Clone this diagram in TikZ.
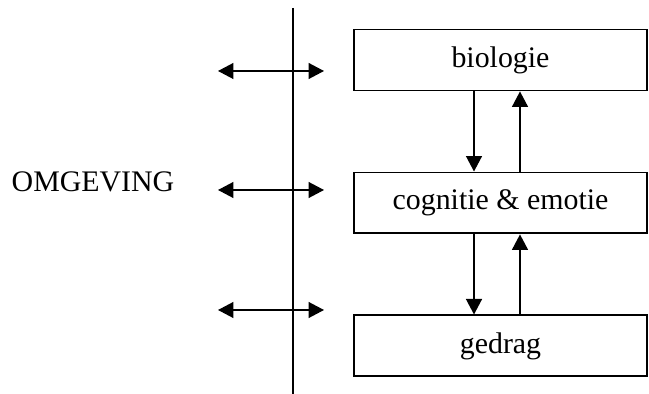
\documentclass[tikz,border=0pt]{standalone}
\usepackage{fontspec}
\setmainfont{Liberation Serif}
\usetikzlibrary{arrows.meta}

\begin{document}
\begin{tikzpicture}[x=0.02cm, y=-0.02cm, node distance=2.86cm]
	\tikzstyle{box} = [rectangle, minimum width=5.86cm, minimum height=1.22cm, 
	text centered, draw=black, line width=1.1pt, font=\fontsize{17}{20}\selectfont]
	\tikzstyle{arrow} = [line width=0.8pt, -{Triangle[length=0.31cm, width=0.32cm]}]
	\tikzstyle{both} = [line width=0.8pt, {Triangle[length=0.31cm, width=0.32cm]}-{Triangle[length=0.31cm, width=0.32cm]}]
	\useasboundingbox (0,0) rectangle (649,394);
	\node (biologie) [box] at (500.5,60) {biologie};
	\node (cognitie) [box, below of=biologie] {cognitie \& emotie};
	\node (gedrag) [box, below of=cognitie] {gedrag};
	\node (omgeving) at (93,182) {\fontsize{17}{20}\selectfont OMGEVING};
	\coordinate (top) at (293,8);
	\coordinate (bottom) at (293,394);
	\coordinate (left1) at (218,71);
	\coordinate (right1) at (324,71);
	\coordinate (left2) at (218,190);
	\coordinate (right2) at (324,190);
	\coordinate (left3) at (218,310);
	\coordinate (right3) at (324,310);
	\draw [line width=1pt] (top) -- (bottom);
	\draw [both] (left1) -- (right1);
	\draw [both] (left2) -- (right2);
	\draw [both] (left3) -- (right3);
	\draw [arrow] ([xshift=-0.53cm]biologie.south) -- ([xshift=-0.53cm]cognitie.north);
	\draw [arrow] ([xshift=0.39cm]cognitie.north) -- ([xshift=0.39cm]biologie.south);
	\draw [arrow] ([xshift=-0.53cm]cognitie.south) -- ([xshift=-0.53cm]gedrag.north);
	\draw [arrow] ([xshift=0.39cm]gedrag.north) -- ([xshift=0.39cm]cognitie.south);
\end{tikzpicture}
\end{document}
